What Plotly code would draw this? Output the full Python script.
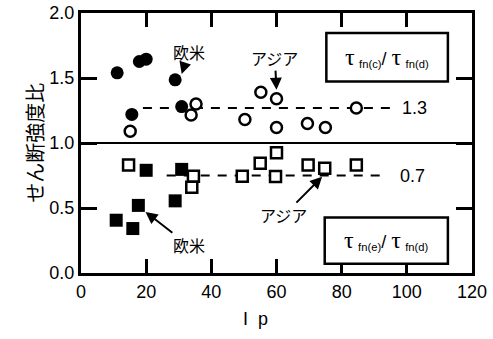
import plotly.graph_objects as go

# ---- data ----
# upper group: tau_fn(c)/tau_fn(d)
c_us_x = [11.1, 17.9, 20.0, 28.9, 15.6, 30.9]
c_us_y = [1.54, 1.627, 1.645, 1.486, 1.22, 1.28]
c_asia_x = [15.1, 35.3, 33.8, 50.3, 55.2, 60.0, 60.0, 69.5, 75.0, 84.5]
c_asia_y = [1.09, 1.30, 1.216, 1.18, 1.39, 1.34, 1.12, 1.15, 1.12, 1.27]
# lower group: tau_fn(e)/tau_fn(d)
e_us_x = [20.0, 30.9, 17.6, 28.9, 10.8, 15.9]
e_us_y = [0.79, 0.797, 0.52, 0.555, 0.406, 0.342]
e_asia_x = [14.6, 34.5, 34.0, 49.5, 55.0, 60.0, 59.7, 69.7, 74.8, 84.5]
e_asia_y = [0.83, 0.745, 0.66, 0.745, 0.845, 0.925, 0.742, 0.83, 0.805, 0.83]
# mean lines
mean_c_x = [19.0, 95.2]
mean_c_y = [1.27, 1.27]
mean_e_x = [26.3, 93.5]
mean_e_y = [0.75, 0.75]
x_ticks = [0, 20, 40, 60, 80, 100, 120]
y_ticks = [0.0, 0.5, 1.0, 1.5, 2.0]
y_tick_text = ["0.0", "0.5", "1.0", "1.5", "2.0"]

JP = "Noto Sans CJK JP"
SANS = "Liberation Sans, Arial, sans-serif"

fig = go.Figure()

dash = "9px,8px"
fig.add_trace(go.Scatter(x=mean_c_x, y=mean_c_y, mode="lines",
                         line=dict(color="black", width=2, dash=dash), hoverinfo="skip"))
fig.add_trace(go.Scatter(x=mean_e_x, y=mean_e_y, mode="lines",
                         line=dict(color="black", width=2, dash=dash), hoverinfo="skip"))

circ_size = 11
sq_size = 11
fig.add_trace(go.Scatter(x=c_asia_x, y=c_asia_y, mode="markers",
                         marker=dict(symbol="circle", size=circ_size, color="white",
                                     line=dict(color="black", width=2.5))))
fig.add_trace(go.Scatter(x=c_us_x, y=c_us_y, mode="markers",
                         marker=dict(symbol="circle", size=circ_size + 2, color="black",
                                     line=dict(color="black", width=0))))
fig.add_trace(go.Scatter(x=e_asia_x, y=e_asia_y, mode="markers",
                         marker=dict(symbol="square", size=sq_size, color="white",
                                     line=dict(color="black", width=2.5))))
fig.add_trace(go.Scatter(x=e_us_x, y=e_us_y, mode="markers",
                         marker=dict(symbol="square", size=sq_size + 2, color="black",
                                     line=dict(color="black", width=0))))

# y = 1.0 solid line
fig.add_shape(type="line", xref="paper", yref="y", x0=0, x1=1, y0=1.0, y1=1.0,
              line=dict(color="black", width=2))

# legend-like boxes
fig.add_shape(type="rect", xref="x", yref="y", x0=75.3, x1=112.6, y0=1.473, y1=1.846,
              line=dict(color="black", width=2.5), fillcolor="white")
fig.add_shape(type="rect", xref="x", yref="y", x0=74.8, x1=112.6, y0=0.072, y1=0.427,
              line=dict(color="black", width=2.5), fillcolor="white")

tau = '<span style="font-family:Liberation Serif, serif;font-size:24px">τ</span>'
def ratio(a):
    return (tau + '<span style="font-size:16px"> <sub>fn(' + a + ')</sub></span>/ '
            + tau + '<span style="font-size:16px"> <sub>fn(d)</sub></span>')

ann = [
    dict(x=94.0, y=1.665, text=ratio("c")),
    dict(x=93.7, y=0.255, text=ratio("e")),
    dict(x=102.4, y=1.27, text="1.3"),
    dict(x=101.7, y=0.75, text="0.7"),
]
for a in ann:
    a.setdefault("font", dict(family=SANS, size=18, color="black"))
    fig.add_annotation(xref="x", yref="y", showarrow=False, **a)

# labels with arrows: (text, text-x, text-y, head-x, head-y)
arrow_labels = [
    ("欧米", 33.0, 1.70, 30.9, 1.53),
    ("アジア", 59.5, 1.653, 60.0, 1.41),
    ("欧米", 33.0, 0.214, 19.8, 0.47),
    ("アジア", 62.3, 0.445, 74.0, 0.74),
]
for t, ax, ay, x, y in arrow_labels:
    fig.add_annotation(xref="x", yref="y", axref="x", ayref="y", x=x, y=y, ax=ax, ay=ay,
                       text=t, showarrow=True, arrowhead=2, arrowsize=1.2,
                       arrowwidth=2, arrowcolor="black", borderpad=0,
                       font=dict(family=JP, size=16, color="black"))

# axis titles
fig.add_annotation(xref="x", yref="paper", x=53.4, y=-0.175, text="I  p",
                   showarrow=False, yanchor="middle",
                   font=dict(family=SANS, size=18, color="black"))
fig.add_annotation(xref="paper", yref="paper", x=-0.163, y=0.5, text="せん断強度比",
                   textangle=-90, showarrow=False,
                   font=dict(family=JP, size=20, color="black"))

fig.update_xaxes(range=[0, 120], tickvals=x_ticks, ticks="inside", ticklen=14,
                 tickwidth=2.5, tickcolor="black", showline=True, linewidth=3,
                 linecolor="black", mirror="allticks", showgrid=False, zeroline=False,
                 automargin=False,
                 tickfont=dict(family=SANS, size=18, color="black"))
fig.update_yaxes(range=[0, 2.0], tickvals=y_ticks, ticktext=y_tick_text, ticks="inside",
                 ticklen=16, tickwidth=2.5, tickcolor="black", showline=True, linewidth=3,
                 linecolor="black", mirror="allticks", showgrid=False, zeroline=False,
                 automargin=False,
                 tickfont=dict(family=SANS, size=18, color="black"))

fig.update_layout(width=493, height=339, showlegend=False,
                  margin=dict(l=81, r=21, t=13, b=66),
                  plot_bgcolor="white", paper_bgcolor="white")

fig.write_html("out.html", config={"displayModeBar": False},
               post_script="document.body.style.margin='0';document.body.style.overflow='hidden';")
